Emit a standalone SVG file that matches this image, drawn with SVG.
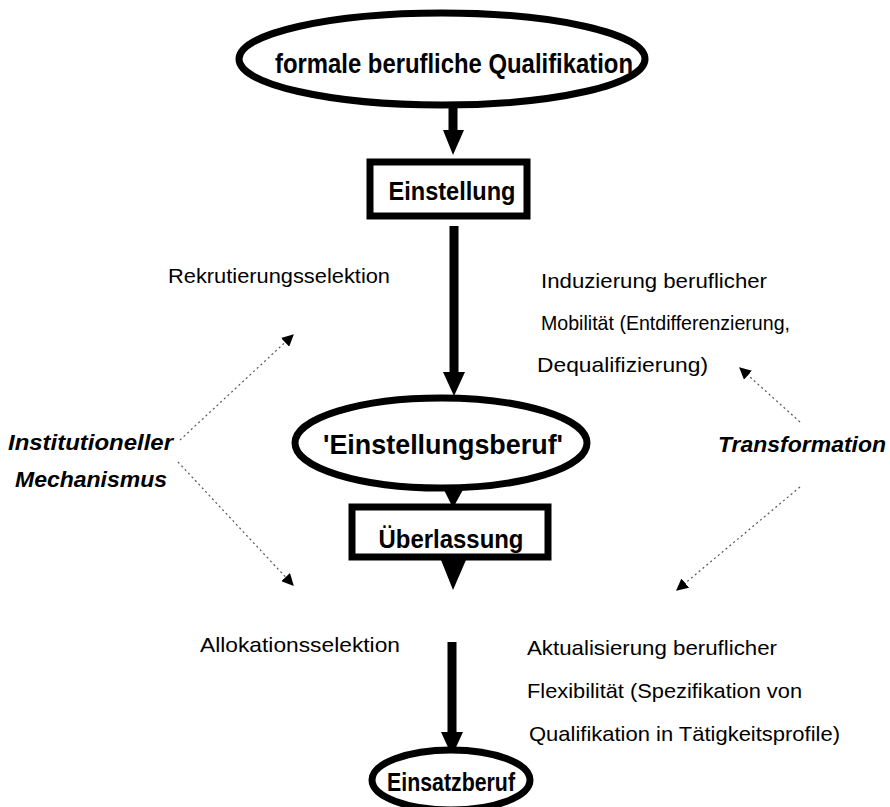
<svg xmlns="http://www.w3.org/2000/svg" width="890" height="807" viewBox="0 0 890 807">
<style>
.node{fill:#fff;stroke:#000;stroke-width:7}
.bt{font-family:"Liberation Sans",Arial,sans-serif;font-weight:bold;fill:#000;text-anchor:middle}
.t{font-family:"Liberation Sans",Arial,sans-serif;font-size:21px;fill:#000}
.bi{font-family:"Liberation Sans",Arial,sans-serif;font-size:22px;font-weight:bold;font-style:italic;fill:#000}
.shaft{stroke:#000;stroke-width:9;fill:none}
.head{fill:#000}
.dot{stroke:#555;stroke-width:1.2;stroke-dasharray:2 3;fill:none;marker-end:url(#ah)}
</style>
<defs>
<marker id="ah" viewBox="0 0 10 10" refX="9" refY="5" markerWidth="12" markerHeight="12" markerUnits="userSpaceOnUse" orient="auto">
<path d="M0,0 L10,5 L0,10 z" fill="#000"/>
</marker>
</defs>
<rect width="890" height="807" fill="#fff"/>
<g id="connectors">
<line class="shaft" x1="453" y1="108" x2="453" y2="134"/>
<polygon class="head" points="443,130 464,130 453,155"/>
<line class="shaft" x1="454" y1="226" x2="454" y2="376"/>
<polygon class="head" points="443,372 465,372 454,396"/>
<polygon class="head" points="442,486 465,486 453,508"/>
<polygon class="head" points="441,560 466,560 453,590"/>
<line class="shaft" x1="452" y1="642" x2="452" y2="736"/>
<polygon class="head" points="441,732 463,732 452,756"/>
<line class="dot" x1="180" y1="440" x2="293" y2="335"/>
<line class="dot" x1="178" y1="462" x2="293" y2="585"/>
<line class="dot" x1="800" y1="422" x2="740" y2="368"/>
<line class="dot" x1="800" y1="487" x2="677" y2="590"/>
</g>
<g id="n1">
<ellipse class="node" cx="442" cy="59" rx="203" ry="46"/>
<text class="bt" x="454" y="73" font-size="28" textLength="358" lengthAdjust="spacingAndGlyphs">formale berufliche Qualifikation</text>
</g>
<g id="n2">
<rect class="node" x="370" y="162" width="157" height="54"/>
<text class="bt" x="452" y="200" font-size="25" textLength="127" lengthAdjust="spacingAndGlyphs">Einstellung</text>
</g>
<g id="n3">
<ellipse class="node" cx="441" cy="443" rx="146" ry="45"/>
<text class="bt" x="443" y="454" font-size="27" textLength="240" lengthAdjust="spacingAndGlyphs">'Einstellungsberuf'</text>
</g>
<g id="n4">
<rect class="node" x="352" y="507" width="196" height="50"/>
<text class="bt" x="451" y="548" font-size="25" textLength="145" lengthAdjust="spacingAndGlyphs">Überlassung</text>
</g>
<g id="n5">
<ellipse class="node" cx="451" cy="780" rx="79" ry="30"/>
<text class="bt" x="451" y="791" font-size="25" textLength="128" lengthAdjust="spacingAndGlyphs">Einsatzberuf</text>
</g>
<g id="labels">
<text class="t" x="168" y="283" textLength="222" lengthAdjust="spacingAndGlyphs">Rekrutierungsselektion</text>
<text class="t" x="200" y="652" textLength="200" lengthAdjust="spacingAndGlyphs">Allokationsselektion</text>
<text class="t" x="541" y="288" textLength="226" lengthAdjust="spacingAndGlyphs">Induzierung beruflicher</text>
<text class="t" x="541" y="330" textLength="249" lengthAdjust="spacingAndGlyphs">Mobilität (Entdifferenzierung,</text>
<text class="t" x="537" y="372" textLength="171" lengthAdjust="spacingAndGlyphs">Dequalifizierung)</text>
<text class="t" x="527" y="655" textLength="250" lengthAdjust="spacingAndGlyphs">Aktualisierung beruflicher</text>
<text class="t" x="527" y="698" textLength="275" lengthAdjust="spacingAndGlyphs">Flexibilität (Spezifikation von</text>
<text class="t" x="529" y="741" textLength="311" lengthAdjust="spacingAndGlyphs">Qualifikation in Tätigkeitsprofile)</text>
<text class="bi" x="8" y="450" textLength="165" lengthAdjust="spacingAndGlyphs">Institutioneller</text>
<text class="bi" x="15" y="487" textLength="152" lengthAdjust="spacingAndGlyphs">Mechanismus</text>
<text class="bi" x="718" y="452" textLength="168" lengthAdjust="spacingAndGlyphs">Transformation</text>
</g>
</svg>
